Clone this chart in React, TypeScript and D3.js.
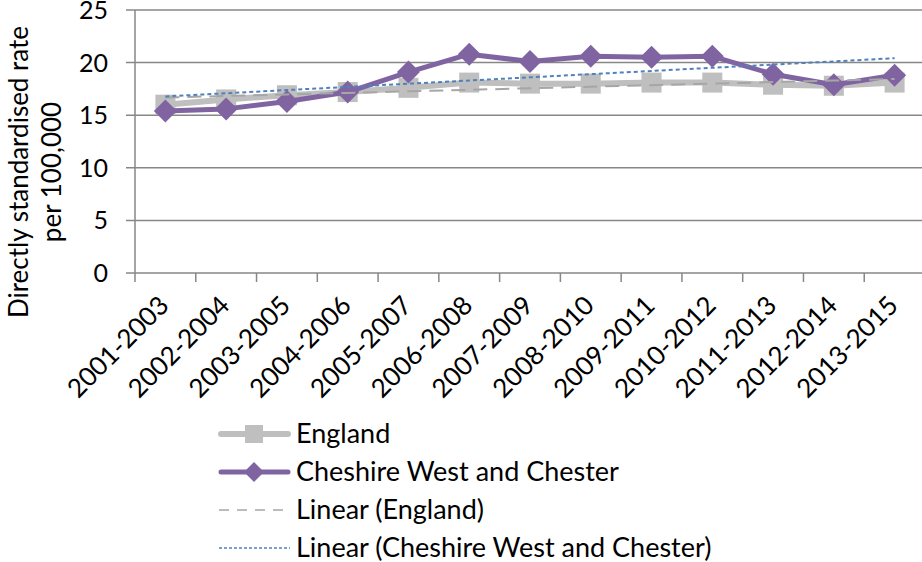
import * as d3 from "d3";
import React from "react";

const periods = [
  "2001-2003", "2002-2004", "2003-2005", "2004-2006", "2005-2007",
  "2006-2008", "2007-2009", "2008-2010", "2009-2011", "2010-2012",
  "2011-2013", "2012-2014", "2013-2015",
];
const england = [16.0, 16.5, 16.9, 17.2, 17.6, 18.1, 18.0, 18.0, 18.1, 18.1, 17.9, 17.8, 18.1];
const cheshire = [15.4, 15.6, 16.3, 17.2, 19.1, 20.8, 20.1, 20.6, 20.5, 20.6, 18.9, 17.9, 18.8];
const yTicks = [0, 5, 10, 15, 20, 25];

const FONT = "Lato, 'Open Sans', sans-serif";
const GRID = "#878787";
const ENG = "#BFBFBF";
const CWC = "#8064A2";
const ENG_TREND = "#A6A6A6";
const CWC_TREND = "#4F81BD";

// least squares fit over the category index, like Excel's linear trendline
function linearFit(values: number[]) {
  const n = values.length;
  const mx = (n - 1) / 2;
  const my = d3.mean(values) as number;
  let sxy = 0, sxx = 0;
  values.forEach((v, i) => {
    sxy += (i - mx) * (v - my);
    sxx += (i - mx) * (i - mx);
  });
  const slope = sxy / sxx;
  return (i: number) => my + slope * (i - mx);
}

export default function App() {
  const width = 922, height = 562;
  const left = 135, right = 925, top = 10, bottom = 273;

  const x = d3.scaleBand<string>().domain(periods).range([left, right]).padding(0);
  const y = d3.scaleLinear().domain([0, 25]).range([bottom, top]);
  const cx = (p: string) => (x(p) as number) + x.bandwidth() / 2;

  const line = d3
    .line<number>()
    .x((_, i) => cx(periods[i]))
    .y((v) => y(v));

  const trendPath = (values: number[]) => {
    const f = linearFit(values);
    const pts = periods.map((p, i) => f(i));
    return line(pts) as string;
  };

  const diamond = (px: number, py: number, r: number) =>
    `M${px},${py - r}L${px + r},${py}L${px},${py + r}L${px - r},${py}Z`;

  const legendRows = [
    { label: "England", kind: "eng" },
    { label: "Cheshire West and Chester", kind: "cwc" },
    { label: "Linear (England)", kind: "engT" },
    { label: "Linear (Cheshire West and Chester)", kind: "cwcT" },
  ];

  return (
    <svg
      width={width}
      height={height}
      style={{ position: "absolute", left: 0, top: 0, background: "#fff" }}
      fontFamily={FONT}
    >
      {/* gridlines */}
      {yTicks.map((t) => (
        <g key={t}>
          <line x1={left - 9} x2={right} y1={y(t)} y2={y(t)} stroke={GRID} strokeWidth={1.5} />
          <text x={108} y={y(t)} dy="0.36em" textAnchor="end" fontSize={25} fill="#000">
            {t}
          </text>
        </g>
      ))}
      {/* axes */}
      <line x1={left} x2={left} y1={top} y2={bottom + 9} stroke={GRID} strokeWidth={1.5} />
      {periods.map((p) => (
        <line
          key={p}
          x1={(x(p) as number) + x.bandwidth()}
          x2={(x(p) as number) + x.bandwidth()}
          y1={bottom}
          y2={bottom + 9}
          stroke={GRID}
          strokeWidth={1.5}
        />
      ))}
      {periods.map((p) => (
        <text
          key={p}
          transform={`translate(${cx(p) + 5},${bottom + 34}) rotate(-45)`}
          textAnchor="end"
          fontSize={26}
          fill="#000"
        >
          {p}
        </text>
      ))}

      {/* y axis title */}
      <g transform="translate(28,172) rotate(-90)">
        <text textAnchor="middle" fontSize={26} fill="#000">
          Directly standardised rate
        </text>
        <text y={33} textAnchor="middle" fontSize={26} fill="#000">
          per 100,000
        </text>
      </g>

      {/* England series */}
      <path d={line(england) as string} fill="none" stroke={ENG} strokeWidth={6} strokeLinejoin="round" />
      {england.map((v, i) => (
        <rect key={i} x={cx(periods[i]) - 10} y={y(v) - 10} width={20} height={20} fill={ENG} />
      ))}

      {/* Cheshire series */}
      <path d={line(cheshire) as string} fill="none" stroke={CWC} strokeWidth={5} strokeLinejoin="round" />
      {cheshire.map((v, i) => (
        <path key={i} d={diamond(cx(periods[i]), y(v), 11.5)} fill={CWC} />
      ))}

      {/* trendlines */}
      <path d={trendPath(england)} fill="none" stroke={ENG_TREND} strokeWidth={2} strokeDasharray="14,8" />
      <path d={trendPath(cheshire)} fill="none" stroke={CWC_TREND} strokeWidth={2} strokeDasharray="4,3" />

      {/* legend */}
      {legendRows.map((r, i) => {
        const base = 443 + i * 38;
        const ly = base - 9;
        return (
          <g key={r.label}>
            {r.kind === "eng" && (
              <>
                <line x1={221} x2={288} y1={ly} y2={ly} stroke={ENG} strokeWidth={6} strokeLinecap="round" />
                <rect x={245} y={ly - 9} width={18} height={18} fill={ENG} />
              </>
            )}
            {r.kind === "cwc" && (
              <>
                <line x1={221} x2={288} y1={ly} y2={ly} stroke={CWC} strokeWidth={5} strokeLinecap="round" />
                <path d={diamond(254, ly, 10)} fill={CWC} />
              </>
            )}
            {r.kind === "engT" && (
              <line x1={219} x2={290} y1={ly} y2={ly} stroke={ENG_TREND} strokeWidth={1.5} strokeDasharray="10,8" />
            )}
            {r.kind === "cwcT" && (
              <line x1={219} x2={290} y1={ly} y2={ly} stroke={CWC_TREND} strokeWidth={1.5} strokeDasharray="3,2" />
            )}
            <text x={296} y={base} fontSize={27} fill="#000">
              {r.label}
            </text>
          </g>
        );
      })}
    </svg>
  );
}
